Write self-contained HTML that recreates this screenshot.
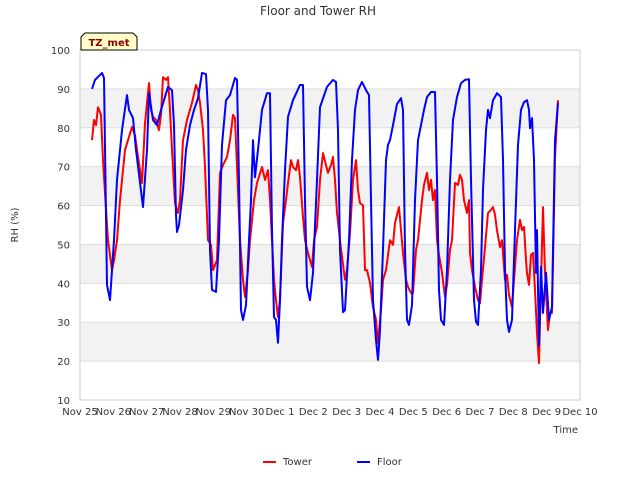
<!DOCTYPE html>
<html><head><meta charset="utf-8"><style>
body{margin:0;background:#fff;}
svg text{font-family:"DejaVu Sans","Liberation Sans",sans-serif;}
</style></head><body>
<svg id="chart" width="640" height="480" xmlns="http://www.w3.org/2000/svg">
<rect width="640" height="480" fill="#fff"/>
<text x="318" y="15" text-anchor="middle" font-size="12" fill="#333">Floor and Tower RH</text>
<g id="bands"></g>
<g id="grid"></g>
<rect x="80" y="50" width="500" height="350" fill="none" stroke="#ccc"/>
<g id="yticks"></g>
<g id="xticks"></g>
<text x="18" y="225" transform="rotate(-90 18 225)" text-anchor="middle" font-size="10" fill="#333">RH (%)</text>
<text x="578" y="433" text-anchor="end" font-size="10" fill="#333">Time</text>
<g id="series"></g>
<g>
<path d="M81,50 L81,37 L85,33 L133,33 L137,37 L137,50 Z" fill="#ffffc8" stroke="#000"/>
<text x="109" y="46" text-anchor="middle" font-size="10" font-weight="bold" fill="#8b0000">TZ_met</text>
</g>
<g>
<line x1="263" y1="462" x2="276" y2="462" stroke="#f00" stroke-width="2"/>
<text x="283" y="465" font-size="10" fill="#333">Tower</text>
<line x1="357" y1="462" x2="370" y2="462" stroke="#00f" stroke-width="2"/>
<text x="377" y="465" font-size="10" fill="#333">Floor</text>
</g>
</svg>
<script>
const xTickLabels=["Nov 25","Nov 26","Nov 27","Nov 28","Nov 29","Nov 30","Dec 1","Dec 2","Dec 3","Dec 4","Dec 5","Dec 6","Dec 7","Dec 8","Dec 9","Dec 10"];
const yTicks=[10,20,30,40,50,60,70,80,90,100];
const floorT=[0.36,0.45,0.66,0.72,0.81,0.90,1.02,1.11,1.26,1.41,1.47,1.59,1.68,1.89,2.01,2.07,2.19,2.31,2.43,2.64,2.76,2.82,2.88,2.91,2.97,3.09,3.18,3.30,3.42,3.54,3.66,3.78,3.84,3.90,3.96,4.08,4.17,4.26,4.38,4.50,4.65,4.71,4.77,4.83,4.89,4.98,5.07,5.13,5.19,5.25,5.34,5.46,5.61,5.70,5.76,5.82,5.88,5.94,6.00,6.06,6.15,6.24,6.39,6.60,6.69,6.75,6.81,6.90,6.99,7.11,7.20,7.41,7.59,7.68,7.74,7.80,7.89,7.95,8.07,8.16,8.25,8.34,8.46,8.58,8.67,8.73,8.79,8.88,8.94,9.00,9.09,9.18,9.24,9.30,9.39,9.51,9.63,9.69,9.75,9.81,9.87,9.96,10.05,10.14,10.23,10.32,10.41,10.53,10.65,10.71,10.77,10.83,10.92,11.01,11.10,11.19,11.31,11.43,11.55,11.67,11.73,11.82,11.88,11.94,12.03,12.09,12.18,12.24,12.30,12.39,12.51,12.63,12.69,12.75,12.81,12.87,12.96,13.05,13.14,13.23,13.32,13.41,13.47,13.50,13.56,13.62,13.68,13.71,13.77,13.83,13.89,13.98,14.07,14.16,14.25,14.34];
const floorV=[90.0,92.3,94.1,92.8,39.6,35.7,51.1,66.6,79.4,88.4,84.6,82.5,74.3,59.6,74.3,88.9,82.0,80.7,84.6,90.5,89.7,80.7,57.6,53.2,55.0,64.0,74.3,80.7,84.6,87.6,94.1,93.8,84.6,48.6,38.3,37.8,51.1,75.6,87.1,88.4,92.8,92.3,66.6,33.1,30.6,34.4,51.1,61.4,76.8,67.3,74.3,84.6,88.9,88.9,53.7,31.3,30.6,24.7,35.7,51.1,69.1,82.8,87.1,91.0,91.0,61.4,39.1,35.7,42.7,66.6,85.3,90.5,92.3,91.8,79.4,48.6,32.6,33.1,51.1,71.7,84.6,89.7,91.8,89.7,88.4,61.4,35.7,25.4,20.3,28.0,48.6,71.7,75.6,76.8,80.7,86.1,87.6,84.6,48.6,30.6,29.3,34.4,61.4,76.8,80.7,84.6,87.9,89.2,89.2,66.6,38.3,30.6,29.3,43.4,66.6,82.0,87.9,91.5,92.3,92.5,66.6,35.7,30.1,29.3,43.4,64.0,79.4,84.6,82.5,87.1,88.9,87.9,71.7,43.4,30.6,27.5,30.6,53.7,75.6,84.6,86.6,87.1,84.6,79.9,82.5,71.7,42.7,53.7,24.1,44.2,32.4,42.7,30.6,33.9,76.8,86.4];
const towerT=[0.36,0.42,0.48,0.54,0.63,0.69,0.75,0.84,0.96,1.02,1.11,1.20,1.29,1.35,1.44,1.56,1.65,1.71,1.86,1.95,2.07,2.13,2.19,2.28,2.37,2.43,2.49,2.58,2.64,2.70,2.76,2.85,2.94,3.00,3.09,3.21,3.36,3.48,3.54,3.60,3.69,3.75,3.84,3.93,3.99,4.05,4.11,4.20,4.29,4.41,4.50,4.59,4.65,4.71,4.80,4.89,4.95,5.04,5.10,5.22,5.31,5.46,5.55,5.64,5.70,5.76,5.82,5.88,5.94,6.00,6.09,6.18,6.24,6.33,6.39,6.48,6.54,6.60,6.69,6.75,6.84,6.96,7.02,7.11,7.20,7.29,7.38,7.44,7.53,7.59,7.65,7.71,7.80,7.86,7.95,8.01,8.10,8.19,8.28,8.34,8.40,8.49,8.55,8.61,8.70,8.79,8.88,8.94,9.03,9.09,9.18,9.30,9.39,9.45,9.51,9.57,9.63,9.69,9.78,9.84,9.93,9.99,10.08,10.14,10.26,10.32,10.41,10.47,10.53,10.59,10.65,10.71,10.77,10.86,10.95,11.01,11.10,11.16,11.25,11.34,11.40,11.46,11.52,11.61,11.67,11.70,11.76,11.85,11.94,12.00,12.06,12.15,12.24,12.33,12.39,12.45,12.51,12.60,12.66,12.75,12.81,12.87,12.96,13.02,13.11,13.20,13.26,13.32,13.38,13.41,13.47,13.53,13.59,13.65,13.71,13.77,13.83,13.89,13.95,14.04,14.10,14.16,14.25,14.34];
const towerV=[76.8,82.0,80.7,85.3,83.3,71.7,63.2,51.1,43.4,45.9,51.1,61.4,69.1,74.3,76.8,80.2,78.1,74.3,65.8,81.2,91.5,84.6,82.8,82.0,79.4,83.3,93.0,92.3,93.0,84.6,74.3,60.6,58.1,61.4,76.8,82.0,86.4,91.0,89.7,86.4,79.4,69.9,51.1,49.9,43.4,44.7,46.0,68.4,70.4,72.5,76.8,83.3,82.5,69.9,51.1,40.9,36.5,43.4,51.1,61.4,65.8,69.9,66.6,69.1,61.4,51.1,40.9,35.7,31.3,35.7,55.5,61.4,65.8,71.7,69.9,69.1,71.7,67.3,57.1,51.1,47.8,44.2,51.1,54.5,66.6,73.5,70.4,68.4,70.4,72.5,66.6,58.1,51.1,46.8,40.9,43.4,52.9,66.6,71.7,64.0,60.6,60.1,43.4,43.4,40.1,33.9,30.6,24.7,33.1,40.9,43.4,51.1,49.9,55.5,57.6,59.6,53.7,47.8,40.9,39.1,37.5,37.5,48.6,51.1,61.4,65.3,68.4,64.0,66.6,61.4,64.0,51.1,47.3,42.7,36.5,39.6,48.6,51.1,65.8,65.3,67.9,66.6,61.4,58.1,61.4,47.8,43.4,39.1,35.7,34.9,40.9,49.3,58.1,58.9,59.6,57.6,53.7,49.3,51.1,40.9,42.2,37.0,33.9,40.9,51.1,56.3,53.7,54.5,46.0,42.7,39.6,47.3,47.8,38.3,27.2,19.5,40.9,59.6,42.7,28.0,32.4,32.4,72.5,87.1];

const X0=80,X1=580,Y0=400,Y1=50;
const xs=t=>X0+t*(X1-X0)/15;
const ys=v=>Y0-(v-10)*(Y0-Y1)/90;
const NS="http://www.w3.org/2000/svg";
function mk(tag,attrs,parent){const e=document.createElementNS(NS,tag);for(const k in attrs)e.setAttribute(k,attrs[k]);parent.appendChild(e);return e;}
const bands=document.getElementById('bands'),grid=document.getElementById('grid'),yt=document.getElementById('yticks'),xt=document.getElementById('xticks'),ser=document.getElementById('series');
for(let i=0;i<yTicks.length-1;i++){
  if(i%2===1){const r=mk('rect',{x:X0,y:ys(yTicks[i+1]),width:X1-X0,height:ys(yTicks[i])-ys(yTicks[i+1]),fill:'#f2f2f2'},bands);
  
  }
}
yTicks.forEach(v=>{
  const l=mk('line',{x1:X0,x2:X1,y1:ys(v),y2:ys(v),stroke:'#ddd'},grid);
  
  
  const t=mk('text',{x:X0-10,y:ys(v)+4,'text-anchor':'end','font-size':10,fill:'#333'},yt);
  t.textContent=v;
  
  
});
xTickLabels.forEach((s,i)=>{
  const t=mk('text',{x:xs(i),y:415,'text-anchor':'middle','font-size':10,fill:'#333'},xt);
  t.textContent=s;
  
  
});
function line(T,V,color,name){
  const d=T.map((t,i)=>(i?'L':'M')+xs(t).toFixed(1)+','+ys(V[i]).toFixed(1)).join(' ');
  const p=mk('path',{d:d,fill:'none',stroke:color,'stroke-width':2,'stroke-linejoin':'round'},ser);
  
  
}
line(towerT,towerV,'#f00','tower-series');
line(floorT,floorV,'#00f','floor-series');
</script>
</body></html>
